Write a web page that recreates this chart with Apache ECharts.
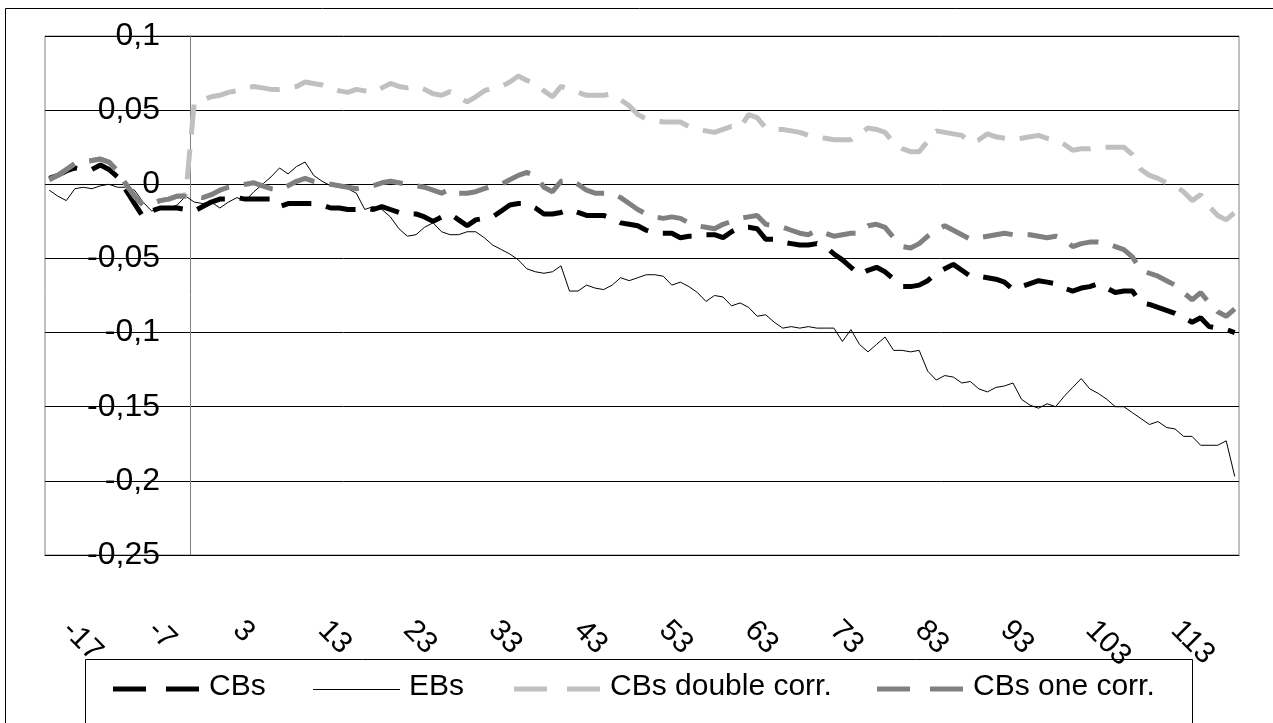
<!DOCTYPE html>
<html><head><meta charset="utf-8">
<script src="https://cdn.jsdelivr.net/npm/echarts@6/dist/echarts.min.js"></script>
<style>html,body{margin:0;padding:0;background:#fff}#c{width:1273px;height:723px}</style>
</head><body><div id="c"></div><script>
const days = [-17,-16,-15,-14,-13,-12,-11,-10,-9,-8,
-7,-6,-5,-4,-3,-2,-1,0,1,2,
3,4,5,6,7,8,9,10,11,12,
13,14,15,16,17,18,19,20,21,22,
23,24,25,26,27,28,29,30,31,32,
33,34,35,36,37,38,39,40,41,42,
43,44,45,46,47,48,49,50,51,52,
53,54,55,56,57,58,59,60,61,62,
63,64,65,66,67,68,69,70,71,72,
73,74,75,76,77,78,79,80,81,82,
83,84,85,86,87,88,89,90,91,92,
93,94,95,96,97,98,99,100,101,102,
103,104,105,106,107,108,109,110,111,112,
113,114,115,116,117,118,119,120,121,122];

const cbs = [0.004,0.006,0.009,0.011,0.010,0.010,0.013,0.010,0.005,-0.004,
-0.013,-0.022,-0.018,-0.016,-0.016,-0.016,-0.017,-0.018,-0.015,-0.012,
-0.010,-0.010,-0.009,-0.010,-0.010,-0.010,-0.010,-0.015,-0.013,-0.013,
-0.013,-0.013,-0.014,-0.016,-0.016,-0.017,-0.017,-0.016,-0.017,-0.015,
-0.017,-0.019,-0.020,-0.020,-0.022,-0.025,-0.022,-0.020,-0.024,-0.028,
-0.024,-0.023,-0.022,-0.018,-0.014,-0.013,-0.013,-0.016,-0.020,-0.020,
-0.019,-0.017,-0.019,-0.021,-0.021,-0.021,-0.023,-0.026,-0.027,-0.028,
-0.031,-0.033,-0.033,-0.033,-0.036,-0.035,-0.035,-0.034,-0.034,-0.036,
-0.032,-0.029,-0.029,-0.030,-0.037,-0.037,-0.039,-0.040,-0.041,-0.041,
-0.040,-0.042,-0.047,-0.051,-0.056,-0.061,-0.058,-0.056,-0.059,-0.064,
-0.069,-0.069,-0.068,-0.065,-0.060,-0.057,-0.054,-0.058,-0.062,-0.062,
-0.063,-0.064,-0.066,-0.071,-0.069,-0.067,-0.065,-0.066,-0.067,-0.070,
-0.072,-0.070,-0.069,-0.067,-0.070,-0.073,-0.072,-0.072,-0.080,-0.081,
-0.083,-0.085,-0.087,-0.090,-0.093,-0.090,-0.096,-0.097,-0.098,-0.100];

const ebs = [-0.004,-0.008,-0.011,-0.003,-0.002,-0.003,-0.001,0.000,-0.002,-0.002,
-0.004,-0.012,-0.018,-0.016,-0.016,-0.014,-0.008,-0.012,-0.013,-0.012,
-0.016,-0.012,-0.009,-0.011,-0.005,0.000,0.005,0.011,0.007,0.012,
0.015,0.006,0.002,-0.001,-0.002,-0.003,-0.006,-0.017,-0.015,-0.017,
-0.022,-0.030,-0.035,-0.034,-0.029,-0.026,-0.032,-0.034,-0.034,-0.032,
-0.032,-0.036,-0.041,-0.044,-0.047,-0.051,-0.057,-0.059,-0.060,-0.059,
-0.055,-0.072,-0.072,-0.068,-0.070,-0.071,-0.068,-0.063,-0.065,-0.063,
-0.061,-0.061,-0.062,-0.068,-0.066,-0.069,-0.073,-0.079,-0.075,-0.076,
-0.082,-0.080,-0.083,-0.089,-0.088,-0.093,-0.097,-0.096,-0.097,-0.096,
-0.097,-0.097,-0.097,-0.106,-0.098,-0.108,-0.113,-0.108,-0.103,-0.112,
-0.112,-0.113,-0.112,-0.126,-0.132,-0.129,-0.130,-0.134,-0.133,-0.138,
-0.140,-0.137,-0.136,-0.134,-0.145,-0.149,-0.151,-0.148,-0.150,-0.143,
-0.137,-0.131,-0.138,-0.141,-0.145,-0.150,-0.150,-0.154,-0.158,-0.162,
-0.160,-0.164,-0.165,-0.170,-0.170,-0.176,-0.176,-0.176,-0.173,-0.197];

const cbsDoubleCorr = [0.003,0.006,0.010,0.014,0.015,0.016,0.017,0.015,0.009,0.000,
-0.008,-0.014,-0.013,-0.011,-0.010,-0.008,-0.007,0.055,0.057,0.059,
0.060,0.062,0.063,0.065,0.066,0.065,0.064,0.064,0.065,0.066,
0.069,0.068,0.067,0.065,0.063,0.062,0.064,0.063,0.062,0.065,
0.068,0.066,0.065,0.066,0.064,0.061,0.060,0.0625,0.059,0.0555,
0.059,0.063,0.065,0.066,0.069,0.073,0.070,0.068,0.063,0.059,
0.066,0.064,0.062,0.060,0.060,0.060,0.061,0.057,0.053,0.047,
0.044,0.043,0.042,0.042,0.042,0.039,0.037,0.036,0.035,0.037,
0.039,0.038,0.047,0.045,0.038,0.037,0.037,0.036,0.035,0.033,
0.032,0.031,0.030,0.030,0.030,0.034,0.038,0.037,0.035,0.028,
0.024,0.022,0.022,0.029,0.036,0.035,0.034,0.033,0.028,0.030,
0.034,0.032,0.031,0.030,0.031,0.032,0.033,0.031,0.030,0.027,
0.023,0.024,0.024,0.025,0.025,0.025,0.025,0.020,0.010,0.006,
0.004,0.001,-0.001,-0.005,-0.011,-0.007,-0.015,-0.021,-0.024,-0.019];

const cbsOneCorr = [0.003,0.006,0.010,0.014,0.015,0.016,0.017,0.015,0.009,0.000,
-0.008,-0.014,-0.013,-0.011,-0.010,-0.008,-0.008,-0.008,-0.009,-0.007,
-0.004,-0.002,-0.001,0.000,0.001,-0.001,-0.003,-0.004,-0.001,0.002,
0.004,0.002,0.001,0.000,-0.001,-0.002,-0.003,-0.002,-0.001,0.001,
0.002,0.001,0.000,-0.001,-0.002,-0.004,-0.006,-0.003,-0.006,-0.006,
-0.005,-0.003,-0.001,0.000,0.003,0.006,0.008,0.006,-0.002,-0.005,
0.002,0.003,0.000,-0.004,-0.006,-0.006,-0.006,-0.009,-0.013,-0.017,
-0.020,-0.022,-0.023,-0.022,-0.023,-0.026,-0.028,-0.029,-0.030,-0.027,
-0.025,-0.023,-0.022,-0.021,-0.027,-0.028,-0.029,-0.031,-0.033,-0.034,
-0.031,-0.033,-0.035,-0.034,-0.033,-0.033,-0.028,-0.027,-0.029,-0.036,
-0.042,-0.043,-0.040,-0.035,-0.031,-0.028,-0.031,-0.034,-0.037,-0.036,
-0.035,-0.034,-0.033,-0.034,-0.034,-0.034,-0.035,-0.036,-0.035,-0.037,
-0.042,-0.040,-0.039,-0.039,-0.040,-0.042,-0.044,-0.049,-0.058,-0.060,
-0.062,-0.065,-0.068,-0.073,-0.078,-0.073,-0.080,-0.086,-0.089,-0.084];

const seriesNames = ['CBs', 'EBs', 'CBs double corr.', 'CBs one corr.'];
const seriesColors = ['#000000', '#000000', '#c0c0c0', '#808080'];
const yMin = -0.25, yMax = 0.1, yStep = 0.05;

const FONT = "'Liberation Sans', Arial, sans-serif";
const chart = echarts.init(document.getElementById('c'), null, {renderer: 'canvas'});
const dashed = [30, 15];

// legend drawn as graphic elements (sample line + real text)
const legendX = [113, 313, 514, 877];
const legendLineY = 689;
const legendTextY = 687;
const legendGraphics = [];
seriesNames.forEach((name, k) => {
  const x0 = legendX[k];
  const thin = k === 1;
  legendGraphics.push({
    type: 'line', silent: true,
    shape: {x1: x0, y1: legendLineY + (thin ? 0.5 : 0), x2: x0 + 87, y2: legendLineY + (thin ? 0.5 : 0)},
    style: {stroke: seriesColors[k], lineWidth: thin ? 1 : 5, lineDash: thin ? null : [33, 20]}
  });
  legendGraphics.push({
    type: 'text', silent: true,
    style: {text: name, x: x0 + 96, y: legendTextY, fill: '#000', fontSize: 30, fontFamily: FONT,
            verticalAlign: 'middle', align: 'left'}
  });
});

const yLabelFmt = v => String(Math.round(v * 100) / 100).replace('.', ',');

chart.setOption({
  animation: false,
  backgroundColor: '#fff',
  textStyle: {fontFamily: FONT},
  graphic: [
    {type: 'rect', silent: true, z: -10, shape: {x: 5.5, y: 8.5, width: 1400, height: 900},
     style: {fill: 'none', stroke: '#000', lineWidth: 1}},
    {type: 'rect', silent: true, z: -10, shape: {x: 85.5, y: 659.5, width: 1107, height: 200},
     style: {fill: 'none', stroke: '#000', lineWidth: 1}}
  ].concat(legendGraphics),
  grid: {left: 45, right: 34, top: 36, bottom: 168, show: true, borderColor: '#808080', borderWidth: 1},
  xAxis: {
    type: 'category', data: days, boundaryGap: true, position: 'bottom',
    axisLine: {onZero: false, lineStyle: {color: '#000', width: 1}},
    axisTick: {interval: 9, length: 12, lineStyle: {color: '#000'}},
    axisLabel: {interval: 9, rotate: -45, margin: 53, padding: [0, 0, 0, 25], fontSize: 30,
                color: '#000', fontFamily: FONT},
    splitLine: {show: false}
  },
  yAxis: [{
    type: 'value', min: yMin, max: yMax, interval: yStep, offset: -145,
    axisLine: {show: true, lineStyle: {color: '#808080'}},
    axisTick: {show: true, length: 8, lineStyle: {color: '#000'}},
    axisLabel: {show: false},
    splitLine: {show: true, lineStyle: {color: '#000', width: 1}}
  }, {
    type: 'value', min: yMin, max: yMax, interval: yStep, offset: -145, position: 'left', z: 10,
    axisLine: {show: false}, axisTick: {show: false}, splitLine: {show: false},
    axisLabel: {margin: 30, fontSize: 32, color: '#000', fontFamily: FONT, formatter: yLabelFmt}
  }],
  series: seriesNames.map((name, k) => ({
    name: name, type: 'line', yAxisIndex: 0, symbol: 'none',
    data: [cbs, ebs, cbsDoubleCorr, cbsOneCorr][k],
    itemStyle: {color: seriesColors[k]},
    lineStyle: k === 1
      ? {color: seriesColors[k], width: 1, type: 'solid'}
      : {color: seriesColors[k], width: 5, type: dashed, cap: 'butt'}
  }))
});
</script></body></html>
